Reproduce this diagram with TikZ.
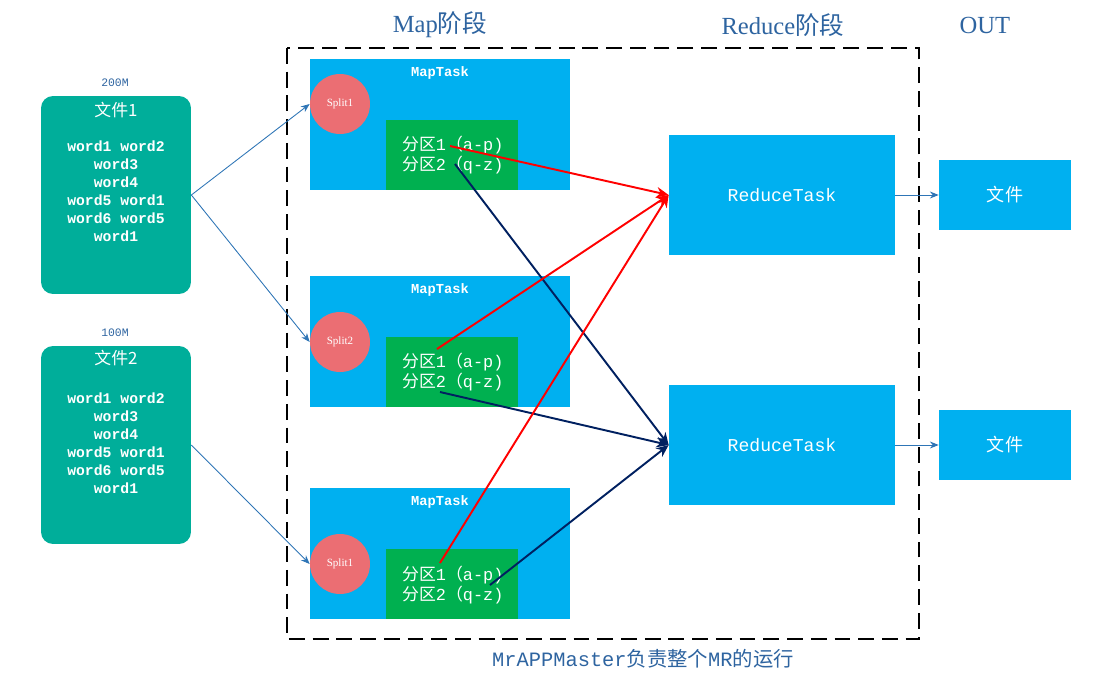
\documentclass[tikz,border=0pt]{standalone}
\usepackage{fontspec}
\setmainfont{Liberation Serif}
\setmonofont{Liberation Mono}
\newfontfamily\cjk{Noto Sans CJK SC}
\usetikzlibrary{arrows.meta}

\definecolor{fileteal}{RGB}{0,174,154}
\definecolor{taskblue}{RGB}{0,176,240}
\definecolor{partgreen}{RGB}{0,176,80}
\definecolor{splitred}{RGB}{235,110,115}
\definecolor{navy}{RGB}{0,32,96}
\definecolor{feedblue}{RGB}{46,117,182}
\definecolor{headblue}{RGB}{46,100,160}

\begin{document}
\begin{tikzpicture}[
x=0.02cm, y=-0.02cm,
filebox/.style={fill=fileteal, rounded corners=0.24cm, minimum width=3cm, minimum height=3.96cm, inner sep=0pt},
maptask/.style={fill=taskblue, minimum width=5.2cm, minimum height=2.62cm, inner sep=0pt},
partbox/.style={fill=partgreen, minimum width=2.64cm, minimum height=1.4cm, inner sep=0pt},
splitnode/.style={circle, fill=splitred, minimum size=1.2cm, inner sep=0pt, text=white, font=\fontsize{6.3}{7}\selectfont},
reducetask/.style={fill=taskblue, minimum width=4.52cm, minimum height=2.4cm, inner sep=0pt, text=white, font=\fontsize{10.3}{12}\selectfont\ttfamily},
outbox/.style={fill=taskblue, minimum width=2.64cm, minimum height=1.4cm, inner sep=0pt, text=white, font=\fontsize{10.3}{12}\selectfont\cjk},
head/.style={text=headblue, font=\fontsize{14}{16}\selectfont},
size/.style={text=headblue, font=\fontsize{6.5}{8}\selectfont\ttfamily},
words/.style={text=white, align=center, font=\fontsize{8.4}{10.2}\selectfont\ttfamily\bfseries},
filetitle/.style={text=white, font=\fontsize{9.6}{11}\selectfont\cjk},
tasktitle/.style={text=white, font=\fontsize{7.8}{9}\selectfont\ttfamily\bfseries},
parttext/.style={text=white, align=left, anchor=west, font=\fontsize{9.6}{10.2}\selectfont\ttfamily},
feed/.style={draw=feedblue, line width=0.5pt, -{Stealth[length=5pt,width=4pt]}},
redline/.style={draw=red, line width=1.1pt, -{Stealth[length=7pt,width=6pt]}},
navyline/.style={draw=navy, line width=1.1pt, -{Stealth[length=7pt,width=6pt]}},
]
\useasboundingbox (0,0) rectangle (1110,684);

% headings
\node[head] (maphead) at (440,25) {Map{\cjk 阶段}};
\node[head] (redhead) at (783,25) {Reduce{\cjk 阶段}};
\node[head] (outhead) at (985,25) {OUT};

% master frame
\draw[line width=1.1pt, dash pattern=on 9pt off 4.5pt] (287,48) rectangle (919,639);
\node[text=headblue, font=\fontsize{11.6}{13}\selectfont\ttfamily] (master) at (643,659) {MrAPPMaster{\cjk 负责整个}MR{\cjk 的运行}};

% input files
\node[filebox] (file1) at (116,195) {};
\node[size] (size1) at (115,83) {200M};
\node[filetitle] (title1) at (116,110) {文件1};
\node[words, anchor=north] (words1) at (116,135) {word1 word2\\word3\\word4\\word5 word1\\word6 word5\\word1};

\node[filebox] (file2) at (116,445) {};
\node[size] (size2) at (115,333) {100M};
\node[filetitle] (title2) at (116,358) {文件2};
\node[words, anchor=north] (words2) at (116,387) {word1 word2\\word3\\word4\\word5 word1\\word6 word5\\word1};

% map tasks
\node[maptask] (map1) at (440,124.5) {};
\node[maptask] (map2) at (440,341.5) {};
\node[maptask] (map3) at (440,553.5) {};
\node[tasktitle] (mt1) at (440,73) {MapTask};
\node[tasktitle] (mt2) at (440,290) {MapTask};
\node[tasktitle] (mt3) at (440,502) {MapTask};

\node[splitnode] (split1) at (340,104) {Split1};
\node[splitnode] (split2) at (340,342) {Split2};
\node[splitnode] (split3) at (340,564) {Split1};

\node[partbox] (part1) at (452,155) {};
\node[partbox] (part2) at (452,372) {};
\node[partbox] (part3) at (452,584) {};
\node[parttext] (pt1) at (396,155) {{\cjk 分区}1{\cjk （}a-p)\\{\cjk 分区}2{\cjk （}q-z)};
\node[parttext] (pt2) at (396,372) {{\cjk 分区}1{\cjk （}a-p)\\{\cjk 分区}2{\cjk （}q-z)};
\node[parttext] (pt3) at (396,585) {{\cjk 分区}1{\cjk （}a-p)\\{\cjk 分区}2{\cjk （}q-z)};

% reduce + output
\node[reducetask] (reduce1) at (782,195) {ReduceTask};
\node[reducetask] (reduce2) at (782,445) {ReduceTask};
\node[outbox] (out1) at (1005,195) {文件};
\node[outbox] (out2) at (1005,445) {文件};

\coordinate (ra1) at (450,146);
\coordinate (ra2) at (437,349);
\coordinate (ra3) at (440,563);
\coordinate (nb1) at (455,164);
\coordinate (nb2) at (440,392);
\coordinate (nb3) at (490,585);

\draw[feed] (file1.east) to (split1.west);
\draw[feed] (file1.east) to (split2.west);
\draw[feed] (file2.east) to (split3.west);
\draw[feed] (reduce1.east) to (out1.west);
\draw[feed] (reduce2.east) to (out2.west);

\draw[navyline] (nb1) to (reduce2.west);
\draw[navyline] (nb2) to (reduce2.west);
\draw[navyline] (nb3) to (reduce2.west);
\draw[redline] (ra1) to (reduce1.west);
\draw[redline] (ra2) to (reduce1.west);
\draw[redline] (ra3) to (reduce1.west);

\end{tikzpicture}
\end{document}
